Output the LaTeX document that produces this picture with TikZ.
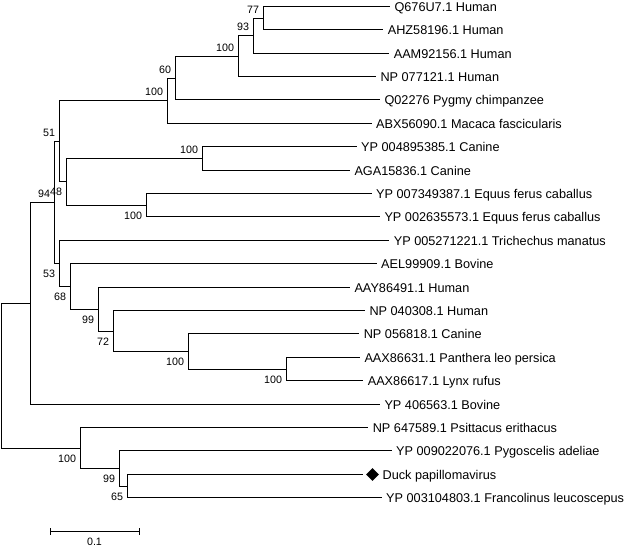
\documentclass[tikz,border=0pt]{standalone}
\usepackage{fontspec}
\setmainfont{Liberation Sans}
\usetikzlibrary{shapes.geometric}
\tikzset{
  branch/.style={line width=1.5pt, line join=miter},
  leafbase/.style={font=\fontsize{12.7}{15}\selectfont, inner sep=0pt, anchor=base west, yshift=-4.5pt},
  leaflab/.style={leafbase, xshift=4.3pt},
  boot/.style={font=\fontsize{10.7}{12}\selectfont, inner sep=0pt, anchor=base east, xshift=-4.3pt},
  bootA/.style={boot, yshift=4.75pt},
  bootB/.style={boot, yshift=-14.25pt},
  mark diamond/.style={diamond, fill=black, draw=none, inner sep=0pt, minimum width=13pt, minimum height=13pt},
}
\begin{document}
\begin{tikzpicture}[x=1pt,y=-1pt]
\useasboundingbox[fill=white] (0,0) rectangle (624,547);
% leaf ends
\coordinate (e1) at (390.0,6.5);
\coordinate (e2) at (383.3,29.5);
\coordinate (e3) at (389.3,53.5);
\coordinate (e4) at (376.0,76.5);
\coordinate (e5) at (380.0,99.5);
\coordinate (e6) at (371.7,123.5);
\coordinate (e7) at (356.7,146.5);
\coordinate (e8) at (350.0,170.5);
\coordinate (e9) at (371.7,193.5);
\coordinate (e10) at (380.0,216.5);
\coordinate (e11) at (389.3,240.5);
\coordinate (e12) at (376.7,263.5);
\coordinate (e13) at (350.0,287.5);
\coordinate (e14) at (365.0,310.5);
\coordinate (e15) at (359.3,333.5);
\coordinate (e16) at (360.0,357.5);
\coordinate (e17) at (363.3,380.5);
\coordinate (e18) at (380.0,404.5);
\coordinate (e19) at (368.3,427.5);
\coordinate (e20) at (391.7,450.5);
\coordinate (e21) at (363.3,474.5);
\coordinate (e22) at (381.7,497.5);
% internal nodes
\coordinate (n77) at (263.5,18.5);
\coordinate (n93) at (253.5,35.5);
\coordinate (n100a) at (238.5,56.5);
\coordinate (n60) at (175.5,78.5);
\coordinate (n100b) at (167.5,100.5);
\coordinate (n100c) at (202.5,158.5);
\coordinate (n100d) at (146.5,205.5);
\coordinate (n48) at (66.5,181.5);
\coordinate (n51) at (59.5,141.5);
\coordinate (n100f) at (286.5,369.5);
\coordinate (n100e) at (188.5,351.5);
\coordinate (n72) at (113.5,331.5);
\coordinate (n99a) at (98.5,309.5);
\coordinate (n68) at (70.5,286.5);
\coordinate (n53) at (59.5,263.5);
\coordinate (n94) at (54.5,202.5);
\coordinate (nA) at (30.5,303.5);
\coordinate (n65) at (127.5,486.5);
\coordinate (n99b) at (119.5,468.5);
\coordinate (n100g) at (80.5,448.5);
\coordinate (root) at (1.5,376.0);
% branches
\begin{scope}[branch]
\draw (n77) |- (e1); \draw (n77) |- (e2);
\draw (n93) |- (n77); \draw (n93) |- (e3);
\draw (n100a) |- (n93); \draw (n100a) |- (e4);
\draw (n60) |- (n100a); \draw (n60) |- (e5);
\draw (n100b) |- (n60); \draw (n100b) |- (e6);
\draw (n100c) |- (e7); \draw (n100c) |- (e8);
\draw (n100d) |- (e9); \draw (n100d) |- (e10);
\draw (n48) |- (n100c); \draw (n48) |- (n100d);
\draw (n51) |- (n100b); \draw (n51) |- (n48);
\draw (n100f) |- (e16); \draw (n100f) |- (e17);
\draw (n100e) |- (e15); \draw (n100e) |- (n100f);
\draw (n72) |- (e14); \draw (n72) |- (n100e);
\draw (n99a) |- (e13); \draw (n99a) |- (n72);
\draw (n68) |- (e12); \draw (n68) |- (n99a);
\draw (n53) |- (e11); \draw (n53) |- (n68);
\draw (n94) |- (n51); \draw (n94) |- (n53);
\draw (nA) |- (n94); \draw (nA) |- (e18);
\draw (n65) |- (e21); \draw (n65) |- (e22);
\draw (n99b) |- (e20); \draw (n99b) |- (n65);
\draw (n100g) |- (e19); \draw (n100g) |- (n99b);
\draw (root) |- (nA); \draw (root) |- (n100g);
\end{scope}
% leaf labels
\node[leaflab] (t1) at (e1) {Q676U7.1 Human};
\node[leaflab] (t2) at (e2) {AHZ58196.1 Human};
\node[leaflab] (t3) at (e3) {AAM92156.1 Human};
\node[leaflab] (t4) at (e4) {NP 077121.1 Human};
\node[leaflab] (t5) at (e5) {Q02276 Pygmy chimpanzee};
\node[leaflab] (t6) at (e6) {ABX56090.1 Macaca fascicularis};
\node[leaflab] (t7) at (e7) {YP 004895385.1 Canine};
\node[leaflab] (t8) at (e8) {AGA15836.1 Canine};
\node[leaflab] (t9) at (e9) {YP 007349387.1 Equus ferus caballus};
\node[leaflab] (t10) at (e10) {YP 002635573.1 Equus ferus caballus};
\node[leaflab] (t11) at (e11) {YP 005271221.1 Trichechus manatus};
\node[leaflab] (t12) at (e12) {AEL99909.1 Bovine};
\node[leaflab] (t13) at (e13) {AAY86491.1 Human};
\node[leaflab] (t14) at (e14) {NP 040308.1 Human};
\node[leaflab] (t15) at (e15) {NP 056818.1 Canine};
\node[leaflab] (t16) at (e16) {AAX86631.1 Panthera leo persica};
\node[leaflab] (t17) at (e17) {AAX86617.1 Lynx rufus};
\node[leaflab] (t18) at (e18) {YP 406563.1 Bovine};
\node[leaflab] (t19) at (e19) {NP 647589.1 Psittacus erithacus};
\node[leaflab] (t20) at (e20) {YP 009022076.1 Pygoscelis adeliae};
\node[mark diamond] (dm) at (372.5,474.5) {};
\node[leafbase, xshift=3.2pt] (t21) at (dm.east) {Duck papillomavirus};
\node[leaflab] (t22) at (e22) {YP 003104803.1 Francolinus leucoscepus};
% bootstrap values
\node[bootA] (b77) at (n77) {77};
\node[bootA] (b93) at (n93) {93};
\node[bootA] (b100a) at (n100a) {100};
\node[bootA] (b60) at (n60) {60};
\node[bootA] (b100b) at (n100b) {100};
\node[bootA] (b51) at (n51) {51};
\node[bootA] (b94) at (n94) {94};
\node[bootB] (b48) at (n48) {48};
\node[bootA] (b100c) at (n100c) {100};
\node[bootB] (b100d) at (n100d) {100};
\node[bootB] (b53) at (n53) {53};
\node[bootB] (b68) at (n68) {68};
\node[bootB] (b99a) at (n99a) {99};
\node[bootB] (b72) at (n72) {72};
\node[bootB] (b100e) at (n100e) {100};
\node[bootB] (b100f) at (n100f) {100};
\node[bootB] (b100g) at (n100g) {100};
\node[bootB] (b99b) at (n99b) {99};
\node[bootB] (b65) at (n65) {65};
% scale bar
\coordinate (sb1) at (50.5,531.5);
\coordinate (sb2) at (139.5,531.5);
\draw[branch] (sb1) -- (sb2);
\draw[branch] ([yshift=3.5pt]sb1) -- ([yshift=-3.5pt]sb1);
\draw[branch] ([yshift=3.5pt]sb2) -- ([yshift=-3.5pt]sb2);
\node[font=\fontsize{10.7}{12}\selectfont, inner sep=0pt] (sbl) at (94.5,541.5) {0.1};
\end{tikzpicture}
\end{document}
